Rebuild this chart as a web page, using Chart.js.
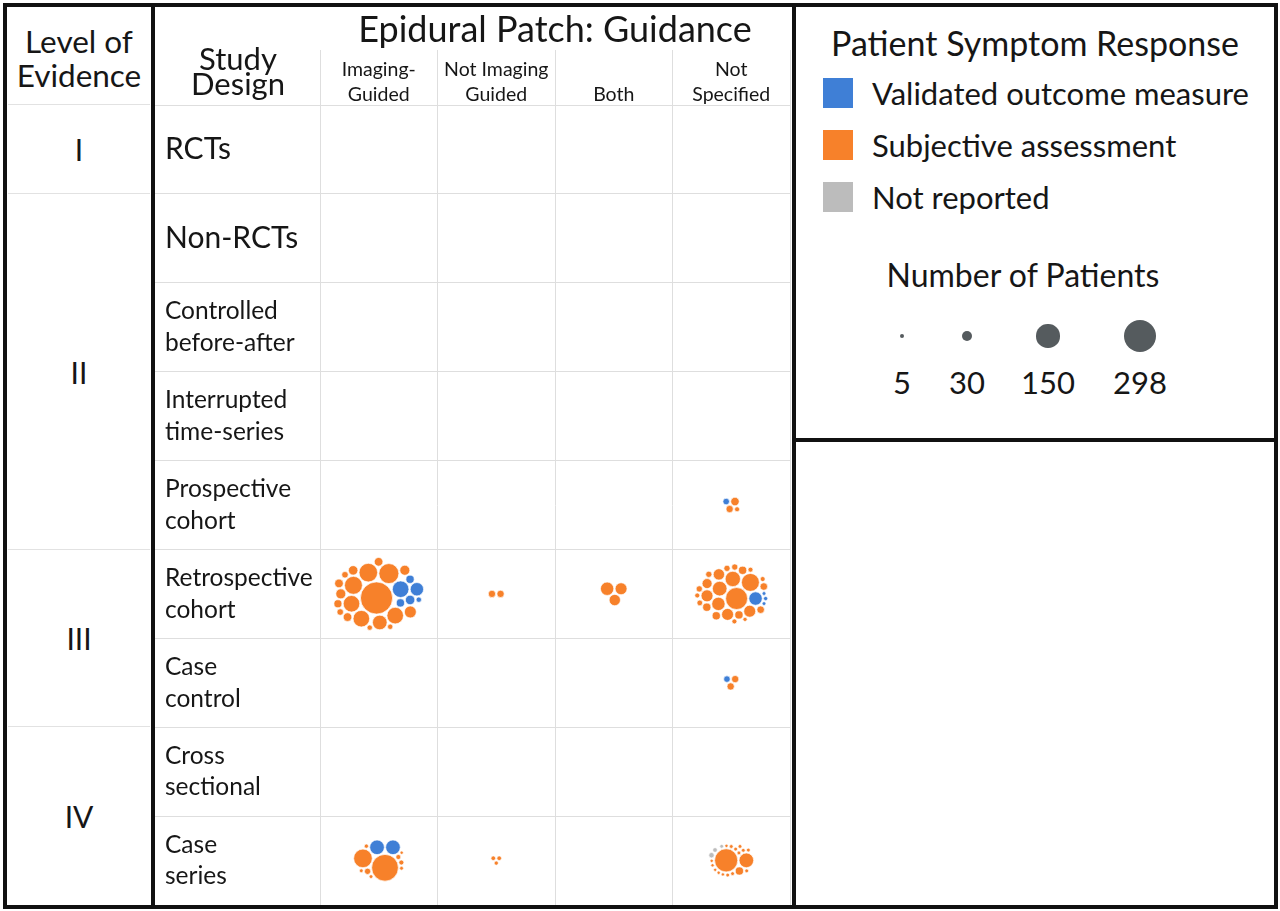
<!DOCTYPE html>
<html>
<head>
<meta charset="utf-8">
<script src="https://cdn.jsdelivr.net/npm/chart.js@4.4.1/dist/chart.umd.min.js"></script>
<style>
  html, body { margin: 0; padding: 0; background: #fff; }
  body { width: 1280px; height: 911px; position: relative; overflow: hidden;
         font-family: Lato, 'Open Sans', sans-serif; color: #161616; }
  .box { position: absolute; box-sizing: border-box; border: 4px solid #111; }
  .abs { position: absolute; white-space: nowrap; }
  #chartWrap { position: absolute; left: 155px; top: 0; width: 637px; height: 911px; }
  .sep { position: absolute; height: 0; border-top: 1.5px solid #e2e2e2; }
  .lvl { position: absolute; left: 7px; width: 144px; text-align: center; font-size: 30px; }
  .sw { position: absolute; left: 823px; width: 30px; height: 30px; }
  .swl { position: absolute; left: 872px; font-size: 31px; line-height: 30px; }
</style>
</head>
<body>
<div id="chartWrap"><canvas id="c" width="637" height="911"></canvas></div>

<!-- Level of evidence column -->
<div class="abs" style="left:7px;top:24px;width:144px;text-align:center;font-size:31.5px;line-height:34px;">Level of<br>Evidence</div>
<div id="levelCol"></div>

<!-- Study design header -->
<div class="abs" style="left:158px;top:46px;width:160px;text-align:center;font-size:31px;line-height:25px;">Study<br>Design</div>

<!-- Legend -->
<div class="abs" style="left:792px;top:22px;width:486px;text-align:center;font-size:34px;line-height:42px;">Patient Symptom Response</div>
<div id="legendItems"></div>
<div class="abs" style="left:792px;top:254px;width:462px;text-align:center;font-size:32px;line-height:42px;">Number of Patients</div>
<div id="sizeLegend"></div>

<!-- frames -->
<div class="box" style="left:3px;top:3px;width:152px;height:906px;"></div>
<div class="box" style="left:151px;top:3px;width:645px;height:906px;"></div>
<div class="box" style="left:792px;top:3px;width:486px;height:439px;"></div>
<div class="box" style="left:792px;top:438px;width:486px;height:471px;"></div>

<script>
// ---------------- DATA ----------------
const guidanceLabels = [['Imaging-', 'Guided'], ['Not Imaging', 'Guided'], 'Both', ['Not', 'Specified']];
const designLabels = ['RCTs', 'Non-RCTs', ['Controlled', 'before-after'], ['Interrupted', 'time-series'],
  ['Prospective', 'cohort'], ['Retrospective', 'cohort'], ['Case', 'control'], ['Cross', 'sectional'], ['Case', 'series']];
const evidenceLevels = ['I', 'II', 'III', 'IV'];
const levelFirstDesign = [0, 1, 5, 7];
const levelLastDesign = [0, 4, 6, 8];
const responseTypes = ['Validated outcome measure', 'Subjective assessment', 'Not reported'];
const sizeLegendPatients = [5, 30, 150, 298];

// cells that hold studies (guidance index, design index)
const cellGuidance = [0, 0, 1, 1, 2, 3, 3, 3, 3];
const cellDesign   = [5, 8, 5, 8, 5, 4, 5, 6, 8];
// patients per study, one list per cell, by response type
const validatedPatients = [
  [77, 50, 25, 19, 19, 8],
  [60, 60],
  [], [], [],
  [12],
  [50, 5, 4, 4],
  [12],
  []
];
const subjectivePatients = [
  [290, 112, 97, 90, 77, 77, 77, 60, 40, 28, 28, 25, 21, 21, 21, 18, 12, 12, 8, 8],
  [200, 97, 11, 7, 7, 5, 4, 4, 4, 3],
  [15, 15],
  [6, 6, 5],
  [50, 40, 36],
  [20, 15, 7],
  [135, 90, 66, 60, 50, 40, 40, 40, 36, 28, 19, 19, 19, 19, 16, 16, 11, 11, 11, 11, 9, 7, 7, 7, 7, 5],
  [15, 15],
  [150, 60, 19, 4, 4, 4, 4, 4, 4, 4, 4, 4, 3, 3, 3, 3, 3, 3]
];
const notReportedPatients = [[], [], [], [], [], [], [], [], [8, 6, 4]];

// ---------------- STYLE ----------------
const FONT = "Lato, 'Open Sans', sans-serif";
const TEXT = '#161616';
const GRID = '#dedede';
const responseColors = ['#3f7fd6', '#f7812a', '#bcbcbc'];
const sizeColor = '#555b5e';
const RADIUS_K = 16.3 / Math.sqrt(298);
const radius = n => RADIUS_K * Math.sqrt(n);

// greedy circle packing (pixel space) around the running centroid, centred on its bounding box
function pack(radii) {
  const GAP = 1.3, WX = 0.6;
  const out = [];
  let sx = 0, sy = 0, sw = 0;
  const fits = (x, y, r) => out.every(o => {
    const dx = x - o.x, dy = y - o.y, m = o.r + r + GAP - 1e-6;
    return dx * dx + dy * dy >= m * m;
  });
  const add = (c) => { out.push(c); const w = c.r * c.r; sx += c.x * w; sy += c.y * w; sw += w; };
  radii.forEach(r => {
    if (!out.length) { add({x: 0, y: 0, r}); return; }
    const cx = sx / sw, cy = sy / sw;
    const score = (x, y) => WX * (x - cx) * (x - cx) + (y - cy) * (y - cy);
    let best = null, bs = Infinity;
    const consider = (x, y) => { const s = score(x, y); if (s < bs && fits(x, y, r)) { bs = s; best = {x, y, r}; } };
    for (let i = 0; i < out.length; i++) {
      const a = out[i], da = a.r + r + GAP;
      for (let k = 0; k < 36; k++) { const t = k * Math.PI / 18; consider(a.x + da * Math.cos(t), a.y + da * Math.sin(t)); }
      for (let j = i + 1; j < out.length; j++) {
        const b = out[j], db = b.r + r + GAP;
        const dx = b.x - a.x, dy = b.y - a.y, d = Math.hypot(dx, dy);
        if (d === 0 || d > da + db || d < Math.abs(da - db)) continue;
        const l = (da * da - db * db + d * d) / (2 * d), h = Math.sqrt(Math.max(0, da * da - l * l));
        const mx = a.x + l * dx / d, my = a.y + l * dy / d;
        consider(mx - h * dy / d, my + h * dx / d);
        consider(mx + h * dy / d, my - h * dx / d);
      }
    }
    add(best);
  });
  const minX = Math.min(...out.map(o => o.x - o.r)), maxX = Math.max(...out.map(o => o.x + o.r));
  const minY = Math.min(...out.map(o => o.y - o.r)), maxY = Math.max(...out.map(o => o.y + o.r));
  const cx = (minX + maxX) / 2, cy = (minY + maxY) / 2;
  return out.map(o => ({x: o.x - cx, y: o.y - cy, r: o.r}));
}

const config = {
  type: 'bubble',
  data: {
    datasets: responseTypes.map((label, i) => ({
      label, data: [],
      backgroundColor: responseColors[i],
      borderColor: 'rgba(255,255,255,0.85)',
      borderWidth: 0.8
    }))
  },
  options: {
    responsive: false,
    animation: false,
    events: [],
    layout: { autoPadding: false, padding: { left: 10, right: 2, top: 0, bottom: 6 } },
    plugins: {
      legend: { display: false },
      tooltip: { enabled: false },
      title: {
        display: true, text: 'Epidural Patch: Guidance', fullSize: false, color: TEXT,
        font: { family: FONT, size: 36, weight: 'normal', lineHeight: 1.2 },
        padding: { top: 9, bottom: 0 }
      }
    },
    scales: {
      x: {
        type: 'linear', position: 'top', min: 0, max: 4,
        afterBuildTicks: s => { s.ticks = guidanceLabels.map((_, i) => ({ value: i + 0.5 })); },
        afterFit: s => { s.height = 52.8; s.paddingLeft = 0; s.paddingRight = 0; },
        grid: { offset: true, color: GRID, tickColor: GRID, tickLength: 55, drawTicks: true },
        border: { color: GRID },
        ticks: {
          autoSkip: false, maxRotation: 0, minRotation: 0, padding: -57.7, color: TEXT,
          font: { family: FONT, size: 19.5, lineHeight: 1.3 },
          callback: (v, i) => guidanceLabels[i]
        }
      },
      y: {
        type: 'linear', position: 'left', min: 0, max: 9, reverse: true,
        afterBuildTicks: s => { s.ticks = designLabels.map((_, i) => ({ value: i + 0.5 })); },
        afterFit: s => { s.width = 155; s.paddingTop = 0; s.paddingBottom = 0; },
        grid: { offset: true, color: GRID, tickColor: GRID, tickLength: 165, drawTicks: true },
        border: { color: GRID },
        ticks: {
          autoSkip: false, crossAlign: 'far', padding: 0, color: TEXT,
          font: c => ({ family: FONT, size: c.index < 2 ? 30 : 24.5, lineHeight: 1.3 }),
          callback: (v, i) => designLabels[i]
        }
      }
    }
  }
};

const chart = new Chart(document.getElementById('c'), config);

// place the studies of every cell as packed bubbles, converted through the scales
const xs = chart.scales.x, ys = chart.scales.y;
const pxX = xs.getPixelForValue(1) - xs.getPixelForValue(0);
const pxY = ys.getPixelForValue(1) - ys.getPixelForValue(0);
cellGuidance.forEach((g, c) => {
  const items = [];
  validatedPatients[c].forEach(n => items.push({ n, t: 0 }));
  subjectivePatients[c].forEach(n => items.push({ n, t: 1 }));
  notReportedPatients[c].forEach(n => items.push({ n, t: 2 }));
  const circles = pack(items.map(it => radius(it.n)));
  circles.forEach((p, i) => {
    chart.data.datasets[items[i].t].data.push({
      x: g + 0.5 + p.x / pxX,
      y: cellDesign[c] + 0.5 + p.y / pxY,
      r: p.r,
      patients: items[i].n
    });
  });
});
chart.update('none');

// level-of-evidence column aligned to the study-design rows
const canvasTop = 0;
const levelCol = document.getElementById('levelCol');
const addSep = (y) => {
  const d = document.createElement('div');
  d.className = 'sep';
  d.style.left = '8px'; d.style.width = '142px'; d.style.top = (y - 0.75) + 'px';
  levelCol.appendChild(d);
};
evidenceLevels.forEach((lv, i) => {
  const top = canvasTop + ys.getPixelForValue(levelFirstDesign[i]);
  const bot = canvasTop + ys.getPixelForValue(levelLastDesign[i] + 1);
  addSep(top);
  const d = document.createElement('div');
  d.className = 'lvl';
  d.textContent = lv;
  d.style.top = ((top + bot) / 2 - 18) + 'px';
  d.style.lineHeight = '36px';
  levelCol.appendChild(d);
});

// colour legend
const legendItems = document.getElementById('legendItems');
const legendTop = [78, 130, 182];
responseTypes.forEach((t, i) => {
  const sw = document.createElement('div');
  sw.className = 'sw'; sw.style.top = legendTop[i] + 'px'; sw.style.background = responseColors[i];
  legendItems.appendChild(sw);
  const l = document.createElement('div');
  l.className = 'swl'; l.style.top = legendTop[i] + 'px'; l.textContent = t;
  legendItems.appendChild(l);
});

// size legend
const sizeLegend = document.getElementById('sizeLegend');
const sizeLegendX = [902, 967, 1048, 1140];
sizeLegendPatients.forEach((n, i) => {
  const r = radius(n);
  const c = document.createElement('div');
  c.className = 'abs';
  Object.assign(c.style, { left: (sizeLegendX[i] - r) + 'px', top: (336 - r) + 'px', width: (2 * r) + 'px',
    height: (2 * r) + 'px', borderRadius: '50%', background: sizeColor });
  sizeLegend.appendChild(c);
  const l = document.createElement('div');
  l.className = 'abs';
  Object.assign(l.style, { left: (sizeLegendX[i] - 40) + 'px', width: '80px', top: '362px', lineHeight: '40px',
    textAlign: 'center', fontSize: '31px' });
  l.textContent = String(n);
  sizeLegend.appendChild(l);
});
</script>
</body>
</html>
